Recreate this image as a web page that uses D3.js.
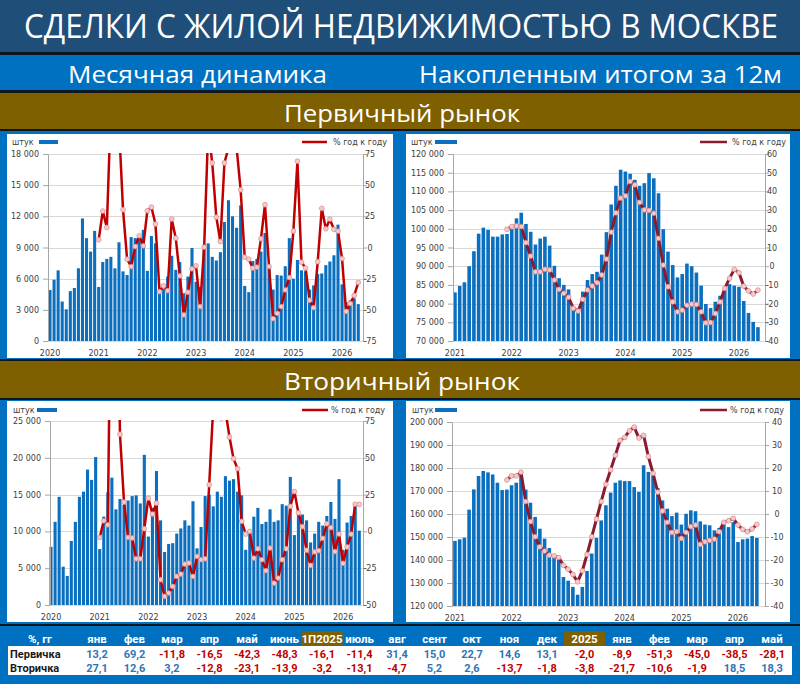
<!DOCTYPE html>
<html><head><meta charset="utf-8">
<script src="https://cdn.jsdelivr.net/npm/d3@7/dist/d3.min.js"></script>
<style>body{margin:0;background:#0070C0;}svg{display:block}</style>
</head><body>
<svg id="c" width="800" height="684"></svg>
<script>
// ---------------- DATA ----------------
const years = ["2020","2021","2022","2023","2024","2025","2026"];
const monthCodes = ["01","02","03","04","05","06","07","08","09","10","11","12"];
const monthlyCats = years.flatMap(y => monthCodes.map(m => y + "-" + m)).slice(0, 77); // Jan 2020 .. May 2026
const rollingCats = monthlyCats.slice(12); // Jan 2021 .. May 2026

// Primary market, monthly deals (units)
const primaryMonthly = [4900,5900,6800,3800,3050,4800,5100,7000,11800,9900,8600,10600,
 5200,7600,7900,8100,7000,9500,6700,6350,10000,9900,10100,10700,
 6750,10100,9400,5000,5000,6200,8200,6850,7600,4600,6200,8950,
 5700,5200,9300,9400,8100,7750,8550,11450,13550,12000,10900,13050,
 5300,4700,7700,7900,8600,10400,7200,4950,6350,6300,7200,9900,
 6000,7800,6800,6700,4950,5350,6450,6500,7300,7650,8250,11200,
 5450,3750,3900,4100,3550];
// Primary market, monthly % y/y
const primaryMonthlyYoY = [null,null,null,null,null,null,null,null,null,null,null,null,
 6.2,29.2,16.1,112,130,98,30.3,-9.4,-15.3,0.8,9.4,1.3,
 29.5,32.4,18.8,-35.4,-30.8,-34.6,22.8,7.5,-22.8,-54.1,-35.9,-17.1,
 -14.7,-47.4,0.3,95,67.8,24.4,4.8,67.8,80,160,80,46.3,
 -7.8,-9.4,-16.6,-15.8,7.0,34.3,-15.3,-57.1,-52.8,-47.4,-34.0,-24.1,
 13.2,69.2,-11.8,-16.5,-42.3,-48.3,-11.4,31.4,15.0,22.7,14.6,13.1,
 -8.9,-51.3,-45.0,-38.5,-28.1];
// Primary market, 12-month rolling total
const primaryRolling = [83000,84700,85700,90000,94000,98700,100300,99700,97900,97900,98500,98600,
 99900,102800,104300,101300,99200,95800,97400,97900,95500,90100,86800,85000,
 83800,79200,78100,83200,86300,87900,88500,93100,99100,106500,111500,115800,
 115300,114700,113100,111500,112200,114900,113500,109500,99900,93900,90300,87000,
 87900,90700,90000,88300,84800,79900,78800,80500,82100,84000,85200,84800,
 84500,80700,77500,75100,73700];
const primaryRollingYoY = [null,null,null,null,null,null,null,null,null,null,null,
 19.7,21.2,21.5,21.2,12.6,5.4,-3.0,-3.0,-1.7,-2.0,-7.4,-12.4,-14.5,
 -16.6,-22.5,-24.0,-17.7,-12.7,-10.6,-8.8,-4.7,3.8,18.2,28.5,36.4,
 37.6,45.3,43.5,34.1,30.1,29.8,28.3,14.9,0.6,-11.0,-19.1,-24.4,
 -23.5,-20.9,-20.3,-20.5,-24.4,-30.3,-30.1,-25.3,-19.1,-11.9,-6.5,-1.7,
 -3.5,-10.7,-13.2,-14.9,-12.8];

// Secondary market, monthly deals (units)
const secondaryMonthly = [7900,11300,14700,5200,3950,8700,11300,14700,15400,18400,17000,20100,
 7600,12000,15300,17300,13000,14400,13600,14200,14800,14900,13800,20400,
 9300,13200,18200,11500,7200,8300,8400,9700,10400,11500,10800,14100,
 7700,10600,14800,15000,13400,15400,14700,17500,16900,17100,15400,14900,
 7500,10000,12000,13200,11000,11300,13000,11300,11500,13700,13500,17400,
 9500,12500,12300,11500,8500,9700,11300,10800,12100,14000,11700,17100,
 7500,11200,12100,13600,10100];
const secondaryMonthlyYoY = [null,null,null,null,null,null,null,null,null,null,null,null,
 -4.1,7.2,4.5,232,231,66,19.9,-4.1,-4.5,-18.6,-18.6,1.8,
 22.6,11.8,19.2,-32.8,-44.2,-41.9,-37.4,-30.6,-29.0,-22.2,-21.5,-30.6,
 -17.0,-19.2,-18.6,31.7,85,88,77,82,64.1,49.4,42.6,6.8,
 -1.8,0,-18.1,-11.8,-19.2,-26.7,-11.3,-35.1,-31.7,-19.2,-11.8,17.0,
 27.1,12.6,3.2,-12.8,-23.1,-13.9,-13.1,-4.7,5.2,2.6,-13.7,-1.8,
 -21.7,-10.6,-1.9,18.5,18.3];
const secondaryRolling = [148300,149000,149700,161900,170700,176500,178700,178100,177200,173600,170400,170600,
 172500,173600,177500,170600,164900,158700,153600,149300,145200,142300,140900,132600,
 131000,128300,124900,128300,135200,142800,149600,157200,163800,169300,173600,174600,
 174300,174300,171700,169600,181200,178300,176800,171300,165900,162300,159100,160600,
 155400,160100,161600,161200,156800,155400,155100,152900,153900,155800,154300,156500,
 147800,149000,149300,150400,149600];
const secondaryRollingYoY = [null,null,null,null,null,null,null,null,null,null,null,
 14.8,16.6,16.6,18.2,5.4,-3.3,-9.9,-14.3,-16.1,-17.9,-18.2,-18.9,-22.3,
 -24.0,-26.3,-29.5,-24.7,-17.6,-9.9,-2.2,5.4,12.9,19.2,25.5,32.0,
 33.3,36.2,37.8,33.0,34.2,25.0,17.7,9.5,1.3,-3.6,-8.0,-7.7,
 -10.6,-8.0,-5.5,-4.8,-13.2,-12.1,-11.5,-10.9,-7.7,-3.6,-2.9,-1.9,
 -4.8,-6.7,-7.7,-6.5,-4.5];

// Axis ticks
const ticksPrimMonthly = [0,3000,6000,9000,12000,15000,18000];
const ticksPrimMonthlyPct = [-75,-50,-25,0,25,50,75];
const ticksPrimRolling = [70000,75000,80000,85000,90000,95000,100000,105000,110000,115000,120000];
const ticksPrimRollingPct = [-40,-30,-20,-10,0,10,20,30,40,50,60];
const ticksSecMonthly = [0,5000,10000,15000,20000,25000];
const ticksSecMonthlyPct = [-50,-25,0,25,50,75];
const ticksSecRolling = [120000,130000,140000,150000,160000,170000,180000,190000,200000];
const ticksSecRollingPct = [-40,-30,-20,-10,0,10,20,30,40];

// Table
const tableHeaders = ["янв","фев","мар","апр","май","июнь","1П2025","июль","авг","сент","окт","ноя","дек","2025","янв","фев","мар","апр","май"];
const tableHighlight = ["1П2025","2025"];
const tablePrimary = [13.2,69.2,-11.8,-16.5,-42.3,-48.3,-16.1,-11.4,31.4,15.0,22.7,14.6,13.1,-2.0,-8.9,-51.3,-45.0,-38.5,-28.1];
const tableSecondary = [27.1,12.6,3.2,-12.8,-23.1,-13.9,-3.2,-13.1,-4.7,5.2,2.6,-13.7,-1.8,-3.8,-21.7,-10.6,-1.9,18.5,18.3];

// ---------------- DRAW ----------------
const svg = d3.select("#c");
const DARK = "#0e1620", BLUE = "#0070C0", NAVY = "#1F4E79", GOLD = "#7F6000";
const fmtK = v => d3.format(",")(v).replace(/,/g, "\u00a0");
const fmtPct = v => d3.format(".1f")(v).replace(".", ",").replace("\u2212", "-");

const bg = svg.append("g");
function band(y, h, c){ bg.append("rect").attr("x",0).attr("y",y).attr("width",800).attr("height",h).attr("fill",c); }
band(0,684,BLUE);
band(0,52,NAVY);
band(52,3,DARK);
band(90,3,DARK);
band(93,36,GOLD);
band(129,2,DARK);
band(359,2,DARK);
band(361,37,GOLD);
band(398,2,DARK);
band(624,2,DARK);

function bandText(txt, x, y, size, len, anchor){
  svg.append("text").attr("x",x).attr("y",y).attr("fill","#fff")
    .attr("font-family","'Open Sans', 'Noto Sans', sans-serif").attr("font-size",size)
    .attr("textLength",len).attr("lengthAdjust","spacingAndGlyphs")
    .attr("text-anchor",anchor||"start").text(txt);
}
bandText("СДЕЛКИ С ЖИЛОЙ НЕДВИЖИМОСТЬЮ В МОСКВЕ", 24, 38, 32, 754);
bandText("Месячная динамика", 68, 83, 23, 259);
bandText("Накопленным итогом за 12м", 419, 83, 23, 363);
bandText("Первичный рынок", 284, 122, 23, 236);
bandText("Вторичный рынок", 284, 390, 23, 236);

// panels
[[7,134,386,224],[406,134,384,224],[7,401,386,221],[406,401,384,221]].forEach(p =>
  svg.append("rect").attr("x",p[0]).attr("y",p[1]).attr("width",p[2]).attr("height",p[3]).attr("fill","#fff"));

function styleAxis(ax){
  ax.attr("font-family","'DejaVu Sans', Verdana, sans-serif").attr("font-size",8);
  ax.selectAll("path.domain").attr("stroke","#A6A6A6");
  ax.selectAll(".tick line").attr("stroke","#A6A6A6");
  ax.selectAll("text").attr("fill","#404040");
}

let clipId = 0;
function drawChart(cfg){
  const g = svg.append("g");
  const x = d3.scaleBand().domain(cfg.cats).range(cfg.xRange).paddingInner(0.24).paddingOuter(0.12);
  const yL = d3.scaleLinear().domain(cfg.yL).range([cfg.bottom, cfg.top]);
  const yR = d3.scaleLinear().domain(cfg.yR).range([cfg.bottom, cfg.top]);

  g.append("g").selectAll("line").data(cfg.yLTicks).join("line")
    .attr("x1",cfg.left).attr("x2",cfg.right)
    .attr("y1",d=>Math.round(yL(d))+0.5).attr("y2",d=>Math.round(yL(d))+0.5)
    .attr("stroke","#D9D9D9");

  g.append("g").selectAll("rect").data(cfg.bars).join("rect")
    .attr("x",(d,i)=>x(cfg.cats[i])).attr("width",x.bandwidth())
    .attr("y",d=>yL(d)).attr("height",d=>cfg.bottom-yL(d))
    .attr("fill","#0B6FBF");

  const axL = g.append("g").attr("transform",`translate(${cfg.left},0)`)
    .call(d3.axisLeft(yL).tickValues(cfg.yLTicks).tickFormat(fmtK).tickSize(5).tickSizeOuter(0).tickPadding(4));
  styleAxis(axL);
  const axR = g.append("g").attr("transform",`translate(${cfg.right},0)`)
    .call(d3.axisRight(yR).tickValues(cfg.yRTicks).tickFormat(d=>String(d)).tickSize(4).tickSizeOuter(0));
  styleAxis(axR);
  axR.selectAll("text").attr("x",cfg.rLabelX-cfg.right).attr("text-anchor","middle");
  const yearCats = cfg.cats.filter(c => c.endsWith("-01"));
  const axB = g.append("g").attr("transform",`translate(0,${cfg.bottom})`)
    .call(d3.axisBottom(x).tickValues(yearCats).tickFormat(d=>d.slice(0,4)).tickSize(0).tickPadding(9.5));
  axB.select(".domain").remove();
  styleAxis(axB);

  const id = "clip" + (clipId++);
  g.append("clipPath").attr("id",id).append("rect")
    .attr("x",cfg.left).attr("y",cfg.top-1).attr("width",cfg.right-cfg.left).attr("height",cfg.bottom-cfg.top+2);
  const lg = g.append("g").attr("clip-path",`url(#${id})`);
  const pts = cfg.line.map((v,i)=>({c:cfg.cats[i],v})).filter(d=>d.v!==null);
  const cx = d => x(d.c)+x.bandwidth()/2;
  lg.append("path").datum(pts)
    .attr("d", d3.line().x(cx).y(d=>yR(d.v)))
    .attr("fill","none").attr("stroke",cfg.lineColor).attr("stroke-width",cfg.lineWidth)
    .attr("stroke-linejoin","round");
  lg.selectAll("circle").data(pts).join("circle")
    .attr("cx",cx).attr("cy",d=>yR(d.v)).attr("r",2.4)
    .attr("fill","#F6CACA").attr("stroke","#D98A8C").attr("stroke-width",0.7);

  // legend
  const L = cfg.legend, lf = "'DejaVu Sans', Verdana, sans-serif";
  g.append("text").attr("x",L.sx).attr("y",L.base).attr("font-family",lf).attr("font-size",8).attr("fill","#404040").text("штук");
  g.append("rect").attr("x",L.rx).attr("y",L.base-5).attr("width",L.rw).attr("height",4).attr("fill","#0B6FBF");
  g.append("line").attr("x1",L.lx1).attr("x2",L.lx2).attr("y1",L.base-3).attr("y2",L.base-3)
    .attr("stroke",cfg.lineColor).attr("stroke-width",2.5);
  g.append("text").attr("x",L.tx).attr("y",L.base).attr("font-family",lf).attr("font-size",8).attr("fill","#404040").text("% год к году");
}

drawChart({cats:monthlyCats, bars:primaryMonthly, line:primaryMonthlyYoY,
  left:48, right:363, top:154, bottom:341, xRange:[48,360.3],
  yL:[0,18000], yLTicks:ticksPrimMonthly, yR:[-75,75], yRTicks:ticksPrimMonthlyPct, rLabelX:370,
  lineColor:"#C00000", lineWidth:2.5,
  legend:{base:145, sx:12, rx:39, rw:19, lx1:302, lx2:327, tx:333}});
drawChart({cats:rollingCats, bars:primaryRolling, line:primaryRollingYoY,
  left:453, right:765, top:154, bottom:341, xRange:[452.6,760.3],
  yL:[70000,120000], yLTicks:ticksPrimRolling, yR:[-40,60], yRTicks:ticksPrimRollingPct, rLabelX:772,
  lineColor:"#8A1B2E", lineWidth:3,
  legend:{base:145, sx:411, rx:435, rw:22, lx1:700, lx2:727, tx:732}});
drawChart({cats:monthlyCats, bars:secondaryMonthly, line:secondaryMonthlyYoY,
  left:50, right:363, top:421, bottom:605, xRange:[49,361.3],
  yL:[0,25000], yLTicks:ticksSecMonthly, yR:[-50,75], yRTicks:ticksSecMonthlyPct, rLabelX:370,
  lineColor:"#C00000", lineWidth:2.5,
  legend:{base:413, sx:13, rx:37, rw:20, lx1:302, lx2:328, tx:331}});
drawChart({cats:rollingCats, bars:secondaryRolling, line:secondaryRollingYoY,
  left:452, right:765, top:422, bottom:606, xRange:[452.6,759.2],
  yL:[120000,200000], yLTicks:ticksSecRolling, yR:[-40,40], yRTicks:ticksSecRollingPct, rLabelX:777,
  lineColor:"#8A1B2E", lineWidth:3,
  legend:{base:413, sx:412, rx:435, rw:22, lx1:700, lx2:727, tx:730}});

// ---------------- TABLE ----------------
const tf = "Roboto, 'Noto Sans', sans-serif";
const tx = d3.scalePoint().domain(d3.range(tableHeaders.length)).range([97,772]);
const tg = svg.append("g");
tg.append("rect").attr("x",8).attr("y",646).attr("width",784).attr("height",29).attr("fill","#fff");
tableHeaders.forEach((h,i)=>{
  if (tableHighlight.includes(h)) {
    tg.append("rect").attr("x",tx(i)-20.5).attr("y",631).attr("width",41).attr("height",15).attr("fill",GOLD);
  }
});
tg.append("text").attr("x",40).attr("y",643).attr("text-anchor","middle").attr("font-family",tf)
  .attr("font-weight",700).attr("font-size",11.5).attr("fill","#fff").text("%, гг");
tg.selectAll("text.h").data(tableHeaders).join("text").attr("class","h")
  .attr("x",(d,i)=>tx(i)).attr("y",643).attr("text-anchor","middle").attr("font-family",tf)
  .attr("font-weight",700).attr("font-size",11.5).attr("fill","#fff").text(d=>d);
[["Первичка",tablePrimary,657.5],["Вторичка",tableSecondary,672]].forEach(([lab,vals,y])=>{
  tg.append("text").attr("x",10).attr("y",y).attr("font-family",tf).attr("font-weight",700)
    .attr("font-size",11).attr("fill","#1a1a1a").text(lab);
  tg.append("g").selectAll("text").data(vals).join("text")
    .attr("x",(d,i)=>tx(i)).attr("y",y).attr("text-anchor","middle").attr("font-family",tf)
    .attr("font-weight",700).attr("font-size",11).attr("fill",d=>d<0?"#C00000":"#2E75B6").text(fmtPct);
});
</script>
</body></html>
